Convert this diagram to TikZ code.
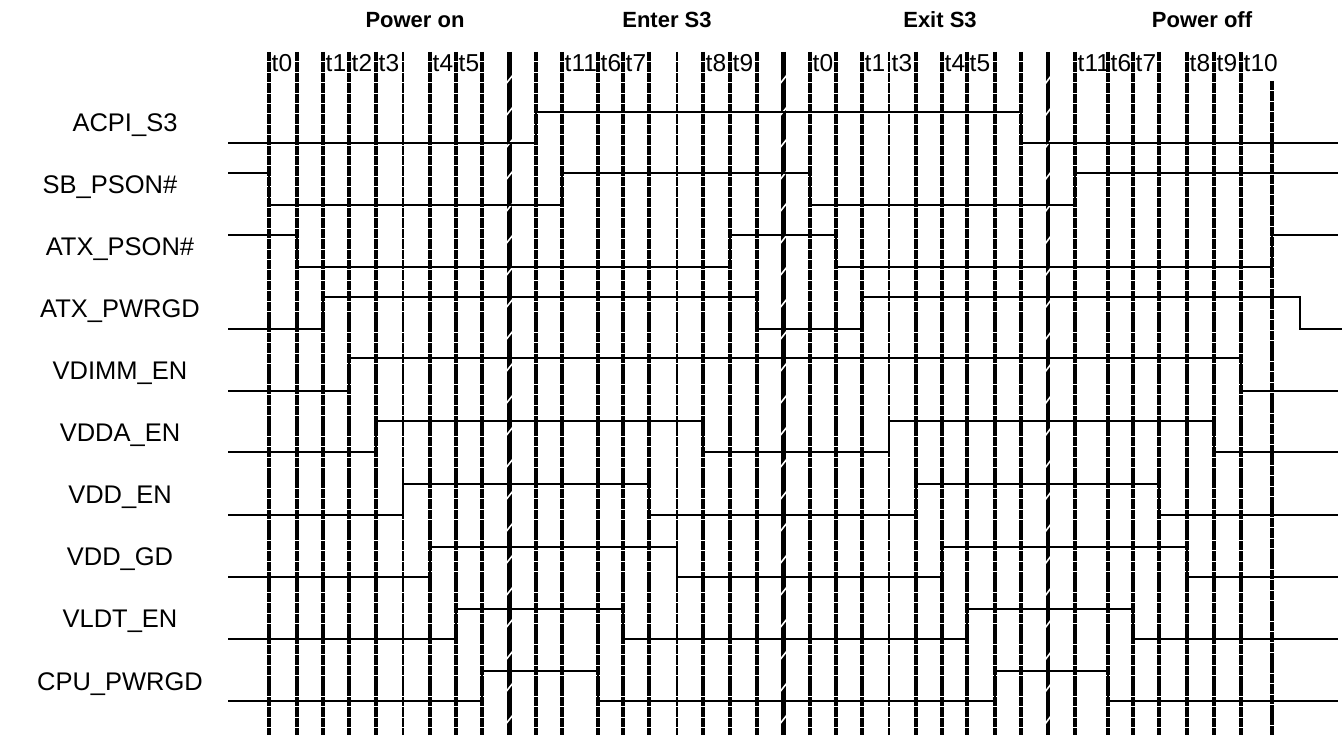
\documentclass[tikz,border=0pt]{standalone}
\usepackage{fontspec}
\setmainfont{Liberation Sans}
\begin{document}
\begin{tikzpicture}[x=1pt,y=-1pt,
  vl/.style={line width=3.2pt, dash pattern=on 9.5pt off 0.9pt},
  thinvl/.style={line width=1.7pt, dash pattern=on 9.5pt off 0.9pt},
  sig/.style={line width=1.4pt, line join=miter},
  brkthick/.style={line width=5pt},
  brkthin/.style={line width=3.2pt},
  cut/.style={white, line width=1.6pt},
  lbl/.style={font=\fontsize{25.5}{28}\selectfont, inner sep=0pt},
  tlbl/.style={font=\fontsize{24.5}{28}\selectfont, anchor=base west, inner sep=0pt},
  hdr/.style={font=\fontsize{22}{26}\selectfont\bfseries, inner sep=0pt}]
\useasboundingbox (0,0) rectangle (1343,735);
% headers
\node[hdr] (h1) at (415,20) {Power on};
\node[hdr] (h2) at (667,20) {Enter S3};
\node[hdr] (h3) at (940,20) {Exit S3};
\node[hdr] (h4) at (1202,20) {Power off};
% vertical dashed lines
\foreach \x in {269,297,323,349,376,430,456,482,536,562,598,623,649,703,730,757,810,836,862,916,942,967,995,1021,1075,1108,1133,1159,1187,1214,1241}
  \draw[vl] (\x,52) -- (\x,735);
\foreach \x in {403,677,889}
  \draw[thinvl] (\x,52) -- (\x,735);
\draw[vl] (1272,81) -- (1272,735);
% break lines
\draw[brkthick] (509,52) -- (509,735);
\draw[brkthick] (783,52) -- (783,735);
\draw[brkthin] (1048,52) -- (1048,735);
\foreach \y in {80,112,...,730}{
  \draw[cut] (505,\y+5) -- (513,\y-5);
  \draw[cut] (779,\y+5) -- (787,\y-5);
  \draw[cut] (1045,\y+4) -- (1051,\y-4);
}
% time labels
\foreach \x/\t in {269/t0,323/t1,349/t2,376/t3,430/t4,456/t5,
                   562/t11,598/t6,623/t7,703/t8,730/t9,
                   810/t0,862/t1,889/t3,942/t4,967/t5,
                   1075/t11,1108/t6,1133/t7,1187/t8,1214/t9,1241/t10}
  \node[tlbl] at (\x+2.5,72) {\t};
% signal names
\node[lbl] (n1) at (125,125) {ACPI\_S3};
\node[lbl] (n2) at (110,187) {SB\_PSON\#};
\node[lbl] (n3) at (120,249) {ATX\_PSON\#};
\node[lbl] (n4) at (120,311) {ATX\_PWRGD};
\node[lbl] (n5) at (120,373) {VDIMM\_EN};
\node[lbl] (n6) at (120,435) {VDDA\_EN};
\node[lbl] (n7) at (120,497) {VDD\_EN};
\node[lbl] (n8) at (120,559) {VDD\_GD};
\node[lbl] (n9) at (120,621) {VLDT\_EN};
\node[lbl] (n10) at (120,684) {CPU\_PWRGD};
% waveforms
\draw[sig] (228,143) -| (536,112) -| (1021,143) -- (1338,143);
\draw[sig] (228,173) -| (269,205) -| (562,173) -| (810,205) -| (1075,173) -- (1338,173);
\draw[sig] (228,235) -| (297,267) -| (730,235) -| (836,267) -| (1272,235) -- (1338,235);
\draw[sig] (228,329) -| (323,297) -| (757,329) -| (862,297) -| (1300,329) -- (1342,329);
\draw[sig] (228,391) -| (349,358) -| (1241,391) -- (1338,391);
\draw[sig] (228,452) -| (376,421) -| (703,452) -| (889,421) -| (1214,452) -- (1338,452);
\draw[sig] (228,515) -| (403,484) -| (649,515) -| (916,484) -| (1159,515) -- (1338,515);
\draw[sig] (228,577) -| (430,547) -| (677,577) -| (942,547) -| (1187,577) -- (1338,577);
\draw[sig] (228,639) -| (456,609) -| (623,639) -| (967,609) -| (1133,639) -- (1338,639);
\draw[sig] (228,701) -| (482,671) -| (598,701) -| (995,671) -| (1108,701) -- (1338,701);
\end{tikzpicture}
\end{document}
